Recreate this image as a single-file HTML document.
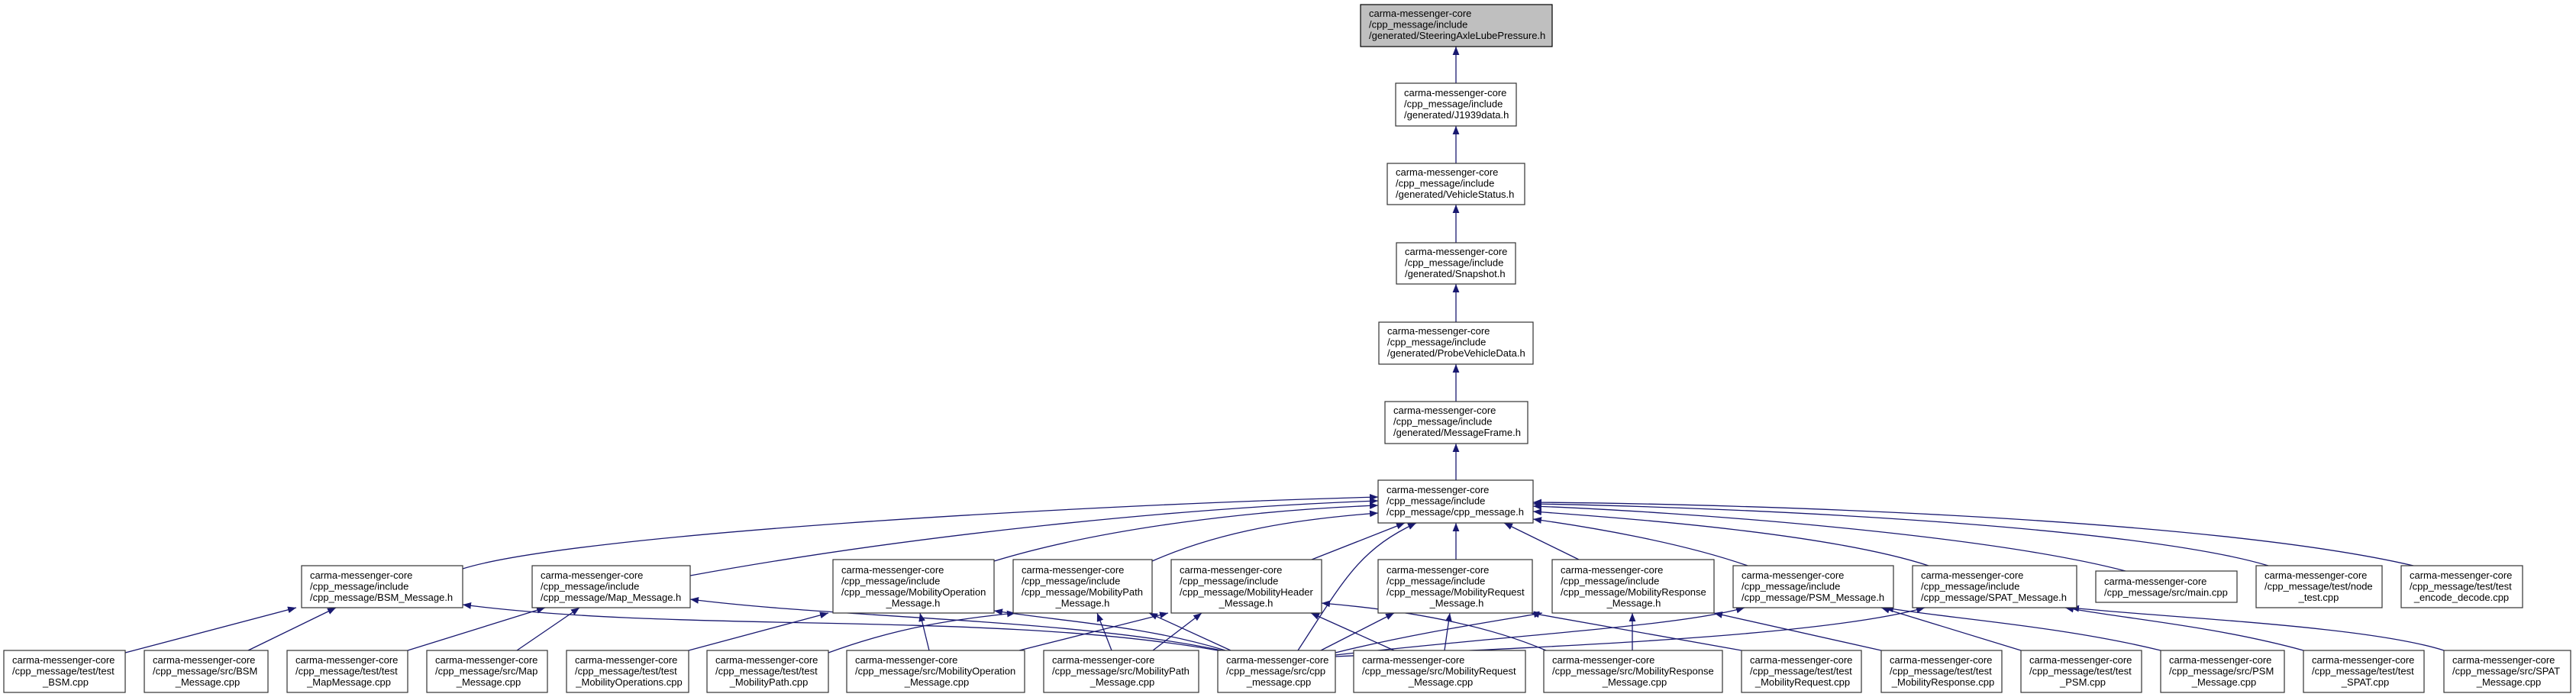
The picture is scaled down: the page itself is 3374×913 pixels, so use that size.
<!DOCTYPE html>
<html><head><meta charset="utf-8"><style>
html,body{margin:0;padding:0;background:#fff;}
svg{display:block;}
text{font-family:"Liberation Sans",Arial,sans-serif;font-size:13px;fill:#000;}
.b{fill:#fff;stroke:#333;stroke-width:1.2;}
.e{fill:none;stroke:#191970;stroke-width:1.3;marker-end:url(#a);}
</style></head><body>
<svg width="3374" height="913" viewBox="0 0 3374 913" xmlns="http://www.w3.org/2000/svg">
<defs><marker id="a" viewBox="0 0 10 8" refX="10" refY="4" markerWidth="11" markerHeight="9" markerUnits="userSpaceOnUse" orient="auto"><path d="M0,0 L10,4 L0,8 z" fill="#191970"/></marker></defs>

<!-- edges -->
<path class="e" d="M1907,109 L1907,61"/>
<path class="e" d="M1907,214 L1907,165"/>
<path class="e" d="M1907,318 L1907,268"/>
<path class="e" d="M1907,422 L1907,372"/>
<path class="e" d="M1907,526 L1907,477"/>
<path class="e" d="M1907,629 L1907,581"/>

<path class="e" d="M606,745 C750,700 1400,662 1805,651"/>
<path class="e" d="M904,754 C1200,700 1550,665 1805,656"/>
<path class="e" d="M1302,735 C1450,690 1650,668 1805,662"/>
<path class="e" d="M1509,735 C1600,695 1700,680 1805,672"/>
<path class="e" d="M1718,733 L1840,685"/>
<path class="e" d="M1700,852 C1760,760 1780,720 1855,685"/>
<path class="e" d="M1907,733 L1907,685"/>
<path class="e" d="M2068,733 L1970,685"/>
<path class="e" d="M2289,741 C2200,710 2080,690 2008,680"/>
<path class="e" d="M2526,741 C2400,700 2150,680 2008,670"/>
<path class="e" d="M2784,748 C2600,700 2200,670 2008,663"/>
<path class="e" d="M2971,741 C2800,690 2300,665 2008,660"/>
<path class="e" d="M3161,741 C2900,680 2300,660 2008,658"/>

<path class="e" d="M164,855 L388,796"/>
<path class="e" d="M325,852 L440,796"/>
<path class="e" d="M1595,852 C1300,800 900,830 606,792"/>
<path class="e" d="M534,852 L714,796"/>
<path class="e" d="M677,852 L759,796"/>
<path class="e" d="M1600,852 C1400,810 1100,810 904,785"/>
<path class="e" d="M902,852 L1085,803"/>
<path class="e" d="M1217,852 L1205,803"/>
<path class="e" d="M1605,852 C1500,820 1400,815 1302,800"/>
<path class="e" d="M1085,855 C1180,820 1260,810 1330,803"/>
<path class="e" d="M1456,852 L1437,803"/>
<path class="e" d="M1612,852 L1505,803"/>
<path class="e" d="M1335,852 L1530,803"/>
<path class="e" d="M1510,852 L1574,803"/>
<path class="e" d="M1826,852 L1717,803"/>
<path class="e" d="M2025,852 C1950,820 1850,800 1731,790"/>
<path class="e" d="M1730,852 L1826,803"/>
<path class="e" d="M1892,852 L1899,803"/>
<path class="e" d="M2281,852 L2005,803"/>
<path class="e" d="M2138,852 L2138,803"/>
<path class="e" d="M2464,852 L2245,803"/>
<path class="e" d="M1749,855 C1850,830 1950,815 2020,803"/>
<path class="e" d="M1749,858 C2000,830 2200,820 2285,796"/>
<path class="e" d="M2647,852 L2464,796"/>
<path class="e" d="M2830,852 C2700,820 2550,810 2469,796"/>
<path class="e" d="M1749,860 C2100,845 2400,830 2521,796"/>
<path class="e" d="M3017,852 C2900,820 2780,810 2705,796"/>
<path class="e" d="M3201,852 C3100,820 2850,810 2712,796"/>

<!-- chain nodes -->
<rect x="1782" y="6" width="251" height="55" fill="#bfbfbf" stroke="#000" stroke-width="1.2"/>
<text x="1793" y="22">carma-messenger-core</text><text x="1793" y="36.5">/cpp_message/include</text><text x="1793" y="51">/generated/SteeringAxleLubePressure.h</text>

<rect class="b" x="1828" y="109" width="158" height="56"/>
<text x="1839" y="126">carma-messenger-core</text><text x="1839" y="140.5">/cpp_message/include</text><text x="1839" y="155">/generated/J1939data.h</text>

<rect class="b" x="1817" y="214" width="180" height="54"/>
<text x="1828" y="230">carma-messenger-core</text><text x="1828" y="244.5">/cpp_message/include</text><text x="1828" y="259">/generated/VehicleStatus.h</text>

<rect class="b" x="1829" y="318" width="156" height="54"/>
<text x="1840" y="334">carma-messenger-core</text><text x="1840" y="348.5">/cpp_message/include</text><text x="1840" y="363">/generated/Snapshot.h</text>

<rect class="b" x="1806" y="422" width="202" height="55"/>
<text x="1817" y="438">carma-messenger-core</text><text x="1817" y="452.5">/cpp_message/include</text><text x="1817" y="467">/generated/ProbeVehicleData.h</text>

<rect class="b" x="1814" y="526" width="187" height="55"/>
<text x="1825" y="542">carma-messenger-core</text><text x="1825" y="556.5">/cpp_message/include</text><text x="1825" y="571">/generated/MessageFrame.h</text>

<rect class="b" x="1805" y="629" width="203" height="56"/>
<text x="1816" y="646">carma-messenger-core</text><text x="1816" y="660.5">/cpp_message/include</text><text x="1816" y="675">/cpp_message/cpp_message.h</text>

<!-- row 2 -->
<rect class="b" x="395" y="741" width="211" height="55"/>
<text x="406" y="758">carma-messenger-core</text><text x="406" y="772.5">/cpp_message/include</text><text x="406" y="787">/cpp_message/BSM_Message.h</text>

<rect class="b" x="697" y="741" width="207" height="55"/>
<text x="708" y="758">carma-messenger-core</text><text x="708" y="772.5">/cpp_message/include</text><text x="708" y="787">/cpp_message/Map_Message.h</text>

<rect class="b" x="1091" y="733" width="211" height="70"/>
<text x="1102" y="751">carma-messenger-core</text><text x="1102" y="765.5">/cpp_message/include</text><text x="1102" y="780">/cpp_message/MobilityOperation</text><text x="1196" y="794.5" text-anchor="middle">_Message.h</text>

<rect class="b" x="1327" y="733" width="182" height="70"/>
<text x="1338" y="751">carma-messenger-core</text><text x="1338" y="765.5">/cpp_message/include</text><text x="1338" y="780">/cpp_message/MobilityPath</text><text x="1418" y="794.5" text-anchor="middle">_Message.h</text>

<rect class="b" x="1534" y="733" width="197" height="70"/>
<text x="1545" y="751">carma-messenger-core</text><text x="1545" y="765.5">/cpp_message/include</text><text x="1545" y="780">/cpp_message/MobilityHeader</text><text x="1632" y="794.5" text-anchor="middle">_Message.h</text>

<rect class="b" x="1805" y="733" width="202" height="70"/>
<text x="1816" y="751">carma-messenger-core</text><text x="1816" y="765.5">/cpp_message/include</text><text x="1816" y="780">/cpp_message/MobilityRequest</text><text x="1908" y="794.5" text-anchor="middle">_Message.h</text>

<rect class="b" x="2033" y="733" width="212" height="70"/>
<text x="2044" y="751">carma-messenger-core</text><text x="2044" y="765.5">/cpp_message/include</text><text x="2044" y="780">/cpp_message/MobilityResponse</text><text x="2140" y="794.5" text-anchor="middle">_Message.h</text>

<rect class="b" x="2270" y="741" width="210" height="55"/>
<text x="2281" y="758">carma-messenger-core</text><text x="2281" y="772.5">/cpp_message/include</text><text x="2281" y="787">/cpp_message/PSM_Message.h</text>

<rect class="b" x="2505" y="741" width="215" height="55"/>
<text x="2516" y="758">carma-messenger-core</text><text x="2516" y="772.5">/cpp_message/include</text><text x="2516" y="787">/cpp_message/SPAT_Message.h</text>

<rect class="b" x="2745" y="748" width="185" height="41"/>
<text x="2756" y="766">carma-messenger-core</text><text x="2756" y="780.5">/cpp_message/src/main.cpp</text>

<rect class="b" x="2955" y="741" width="165" height="55"/>
<text x="2966" y="758">carma-messenger-core</text><text x="2966" y="772.5">/cpp_message/test/node</text><text x="3037" y="787" text-anchor="middle">_test.cpp</text>

<rect class="b" x="3145" y="741" width="159" height="55"/>
<text x="3156" y="758">carma-messenger-core</text><text x="3156" y="772.5">/cpp_message/test/test</text><text x="3224" y="787" text-anchor="middle">_encode_decode.cpp</text>

<!-- bottom row -->
<rect class="b" x="5" y="852" width="159" height="55"/>
<text x="16" y="869">carma-messenger-core</text><text x="16" y="883.5">/cpp_message/test/test</text><text x="86" y="898" text-anchor="middle">_BSM.cpp</text>

<rect class="b" x="189" y="852" width="162" height="55"/>
<text x="200" y="869">carma-messenger-core</text><text x="200" y="883.5">/cpp_message/src/BSM</text><text x="272" y="898" text-anchor="middle">_Message.cpp</text>

<rect class="b" x="376" y="852" width="158" height="55"/>
<text x="387" y="869">carma-messenger-core</text><text x="387" y="883.5">/cpp_message/test/test</text><text x="457" y="898" text-anchor="middle">_MapMessage.cpp</text>

<rect class="b" x="559" y="852" width="158" height="55"/>
<text x="570" y="869">carma-messenger-core</text><text x="570" y="883.5">/cpp_message/src/Map</text><text x="640" y="898" text-anchor="middle">_Message.cpp</text>

<rect class="b" x="742" y="852" width="160" height="55"/>
<text x="753" y="869">carma-messenger-core</text><text x="753" y="883.5">/cpp_message/test/test</text><text x="824" y="898" text-anchor="middle">_MobilityOperations.cpp</text>

<rect class="b" x="926" y="852" width="159" height="55"/>
<text x="937" y="869">carma-messenger-core</text><text x="937" y="883.5">/cpp_message/test/test</text><text x="1007" y="898" text-anchor="middle">_MobilityPath.cpp</text>

<rect class="b" x="1109" y="852" width="233" height="55"/>
<text x="1120" y="869">carma-messenger-core</text><text x="1120" y="883.5">/cpp_message/src/MobilityOperation</text><text x="1227" y="898" text-anchor="middle">_Message.cpp</text>

<rect class="b" x="1367" y="852" width="203" height="55"/>
<text x="1378" y="869">carma-messenger-core</text><text x="1378" y="883.5">/cpp_message/src/MobilityPath</text><text x="1470" y="898" text-anchor="middle">_Message.cpp</text>

<rect class="b" x="1595" y="852" width="154" height="55"/>
<text x="1606" y="869">carma-messenger-core</text><text x="1606" y="883.5">/cpp_message/src/cpp</text><text x="1675" y="898" text-anchor="middle">_message.cpp</text>

<rect class="b" x="1773" y="852" width="225" height="55"/>
<text x="1784" y="869">carma-messenger-core</text><text x="1784" y="883.5">/cpp_message/src/MobilityRequest</text><text x="1887" y="898" text-anchor="middle">_Message.cpp</text>

<rect class="b" x="2022" y="852" width="234" height="55"/>
<text x="2033" y="869">carma-messenger-core</text><text x="2033" y="883.5">/cpp_message/src/MobilityResponse</text><text x="2141" y="898" text-anchor="middle">_Message.cpp</text>

<rect class="b" x="2281" y="852" width="157" height="55"/>
<text x="2292" y="869">carma-messenger-core</text><text x="2292" y="883.5">/cpp_message/test/test</text><text x="2361" y="898" text-anchor="middle">_MobilityRequest.cpp</text>

<rect class="b" x="2464" y="852" width="158" height="55"/>
<text x="2475" y="869">carma-messenger-core</text><text x="2475" y="883.5">/cpp_message/test/test</text><text x="2545" y="898" text-anchor="middle">_MobilityResponse.cpp</text>

<rect class="b" x="2647" y="852" width="158" height="55"/>
<text x="2658" y="869">carma-messenger-core</text><text x="2658" y="883.5">/cpp_message/test/test</text><text x="2728" y="898" text-anchor="middle">_PSM.cpp</text>

<rect class="b" x="2830" y="852" width="162" height="55"/>
<text x="2841" y="869">carma-messenger-core</text><text x="2841" y="883.5">/cpp_message/src/PSM</text><text x="2913" y="898" text-anchor="middle">_Message.cpp</text>

<rect class="b" x="3017" y="852" width="158" height="55"/>
<text x="3028" y="869">carma-messenger-core</text><text x="3028" y="883.5">/cpp_message/test/test</text><text x="3098" y="898" text-anchor="middle">_SPAT.cpp</text>

<rect class="b" x="3201" y="852" width="166" height="55"/>
<text x="3212" y="869">carma-messenger-core</text><text x="3212" y="883.5">/cpp_message/src/SPAT</text><text x="3286" y="898" text-anchor="middle">_Message.cpp</text>
</svg>
</body></html>
